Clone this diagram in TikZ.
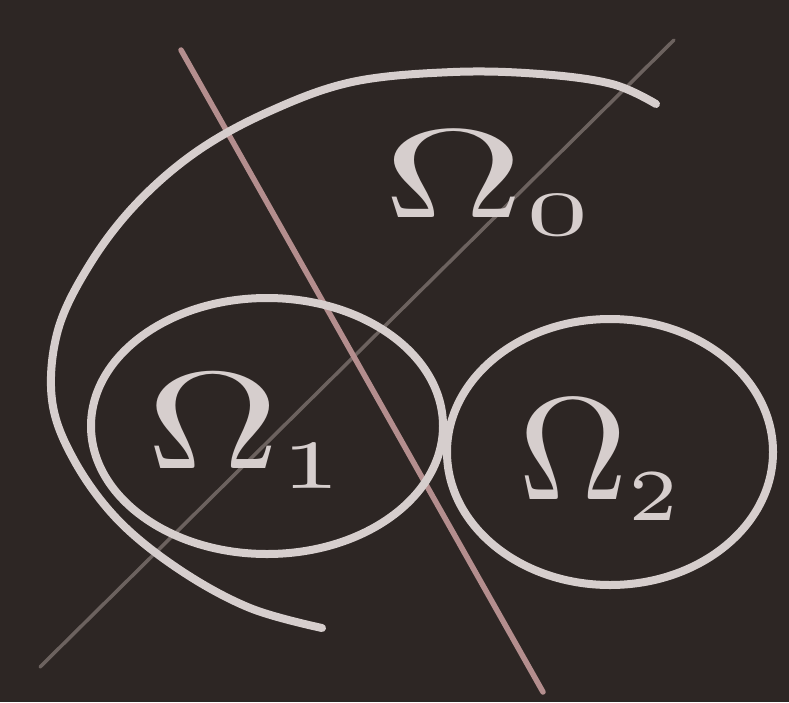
\documentclass[tikz,border=0pt]{standalone}
\usepackage{graphicx}
\usepackage{tikz}
\definecolor{board}{HTML}{2D2624}
\definecolor{chalk}{HTML}{D6CECD}
\definecolor{redchalk}{HTML}{B48E8E}
\definecolor{graychalk}{HTML}{7C726E}
\tikzset{
  chalkline/.style={draw=chalk, line width=8pt, line cap=round, line join=round},
  redline/.style={draw=redchalk, line width=5.5pt, line cap=round},
  grayline/.style={draw=graychalk, line width=3.5pt, line cap=round, opacity=0.8},
  chalklabel/.style={text=chalk, inner sep=0pt, anchor=base west}
}
\begin{document}
\begin{tikzpicture}[x=1pt, y=-1pt]
  \fill[board] (0,0) rectangle (789,702);
  \useasboundingbox (0,0) rectangle (789,702);

  % construction lines
  \coordinate (g1) at (674,40);
  \coordinate (g2) at (40,667);
  \draw[grayline] (g1) -- (g2);
  \coordinate (r1) at (181,50);
  \coordinate (r2) at (543,692);
  \draw[redline] (r1) -- (r2);

  % Omega_0 boundary (open curve)
  \draw[chalkline] plot[smooth, tension=0.6] coordinates {
    (656,104) (612,84) (540,74) (453,72) (352,82) (268,112) (196,152)
    (136,204) (90,264) (58,330) (52,400) (74,460) (118,520) (180,570)
    (250,608) (322,628)};

  % Omega_1 and Omega_2
  \draw[chalkline] (267,426) ellipse [x radius=176, y radius=128];
  \draw[chalkline] (610,452) ellipse [x radius=163, y radius=133];

  % labels
  \node[chalklabel] (L0) at (383,217) {\scalebox{19.5}[12.6]{$\Omega_{\scriptscriptstyle 0}$}};
  \node[chalklabel] (L1) at (146,468) {\scalebox{18.5}[13.8]{$\Omega_{\scriptscriptstyle 1}$}};
  \node[chalklabel] (L2) at (518,499) {\scalebox{15.2}[14.6]{$\Omega_{\scriptscriptstyle 2}$}};
\end{tikzpicture}
\end{document}
